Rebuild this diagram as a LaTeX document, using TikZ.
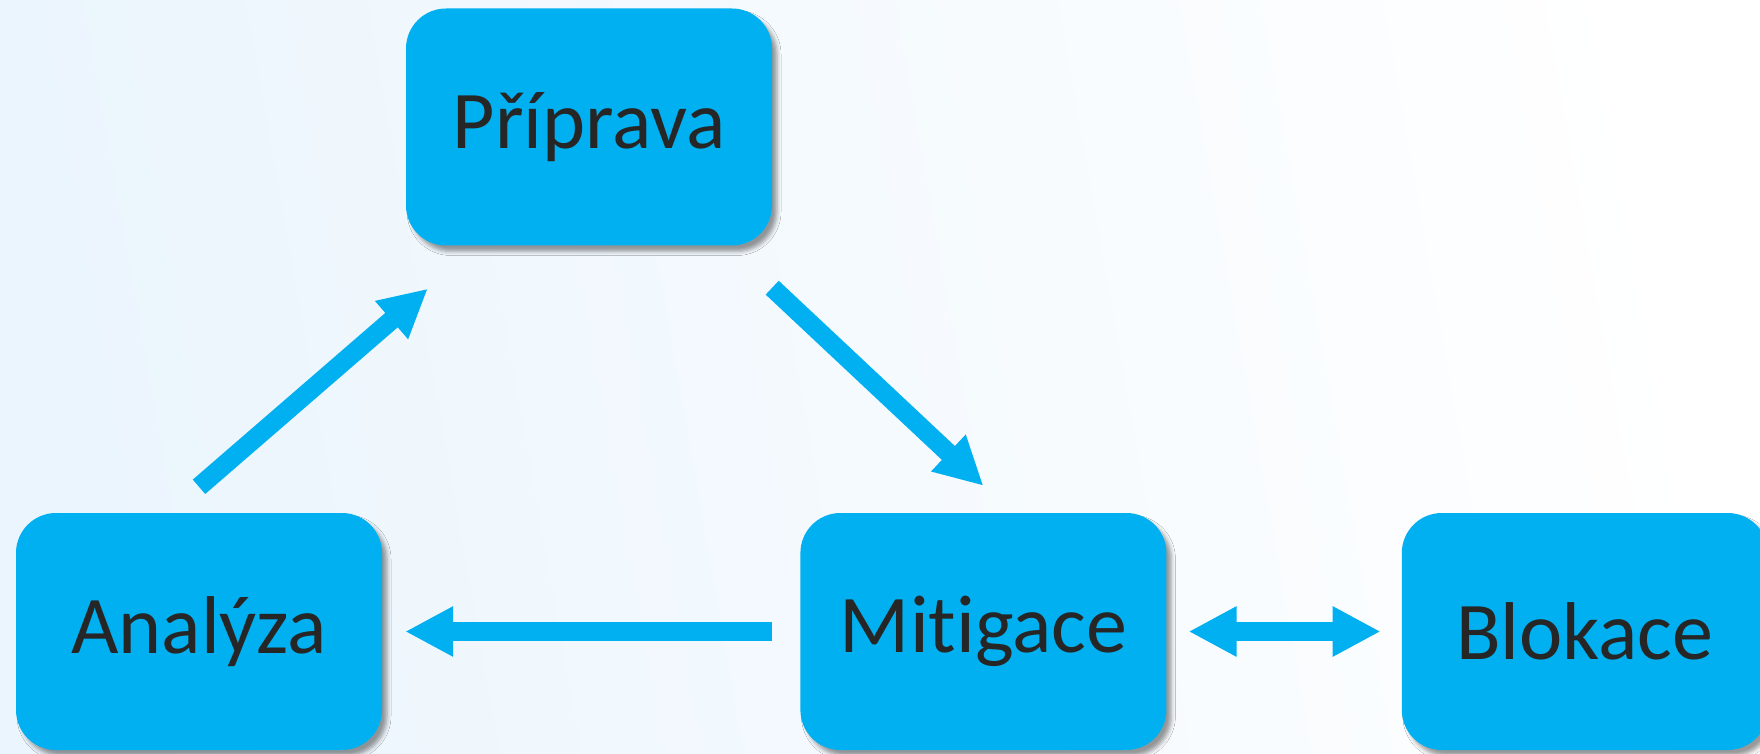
\documentclass[tikz,border=0pt]{standalone}
\usepackage{fontspec}
\setmainfont{Carlito}[Ligatures=NoCommon]
\definecolor{boxblue}{HTML}{00B0F0}
\definecolor{textgray}{HTML}{262626}
\definecolor{bgblue}{HTML}{EBF5FD}
\usetikzlibrary{arrows.meta, positioning, calc, shadows.blur}

\begin{document}
\begin{tikzpicture}[x=1pt, y=1pt, >={Triangle[length=48pt, width=47pt]},
    stage/.style={rectangle, rounded corners=40pt, fill=boxblue, text=textgray,
      minimum width=366pt, minimum height=237pt, inner sep=0pt,
      font=\fontsize{82}{98}\selectfont,
      blur shadow={shadow xshift=5pt, shadow yshift=-6pt,
        shadow blur radius=4pt, shadow opacity=40}},
    flow/.style={->, boxblue, line width=19pt}]
  % Background
  \useasboundingbox (0,0) rectangle (1760,753);
  \shade[left color=bgblue, right color=white, shading angle=100] (0,0) rectangle (1760,753);
  % Stages
  \node[stage] (pri) at (589,626) {Příprava};
  \node[stage] (ana) at (199,121.5) {Analýza};
  \node[stage, right=418pt of ana] (mit) {Mitigace};
  \node[stage, right=235pt of mit] (blo) {Blokace};
  % Flows
  \draw[flow] ([yshift=26pt]ana.north) -- ([xshift=22pt,yshift=-43pt]pri.south west);
  \draw[flow] ([yshift=-42pt]pri.south east) -- ([yshift=27pt]mit.north);
  \draw[flow] ([xshift=-28pt]mit.west) -- ([xshift=23pt]ana.east);
  \draw[flow, <->] ([xshift=22pt]mit.east) -- ([xshift=-21pt]blo.west);
\end{tikzpicture}
\end{document}
